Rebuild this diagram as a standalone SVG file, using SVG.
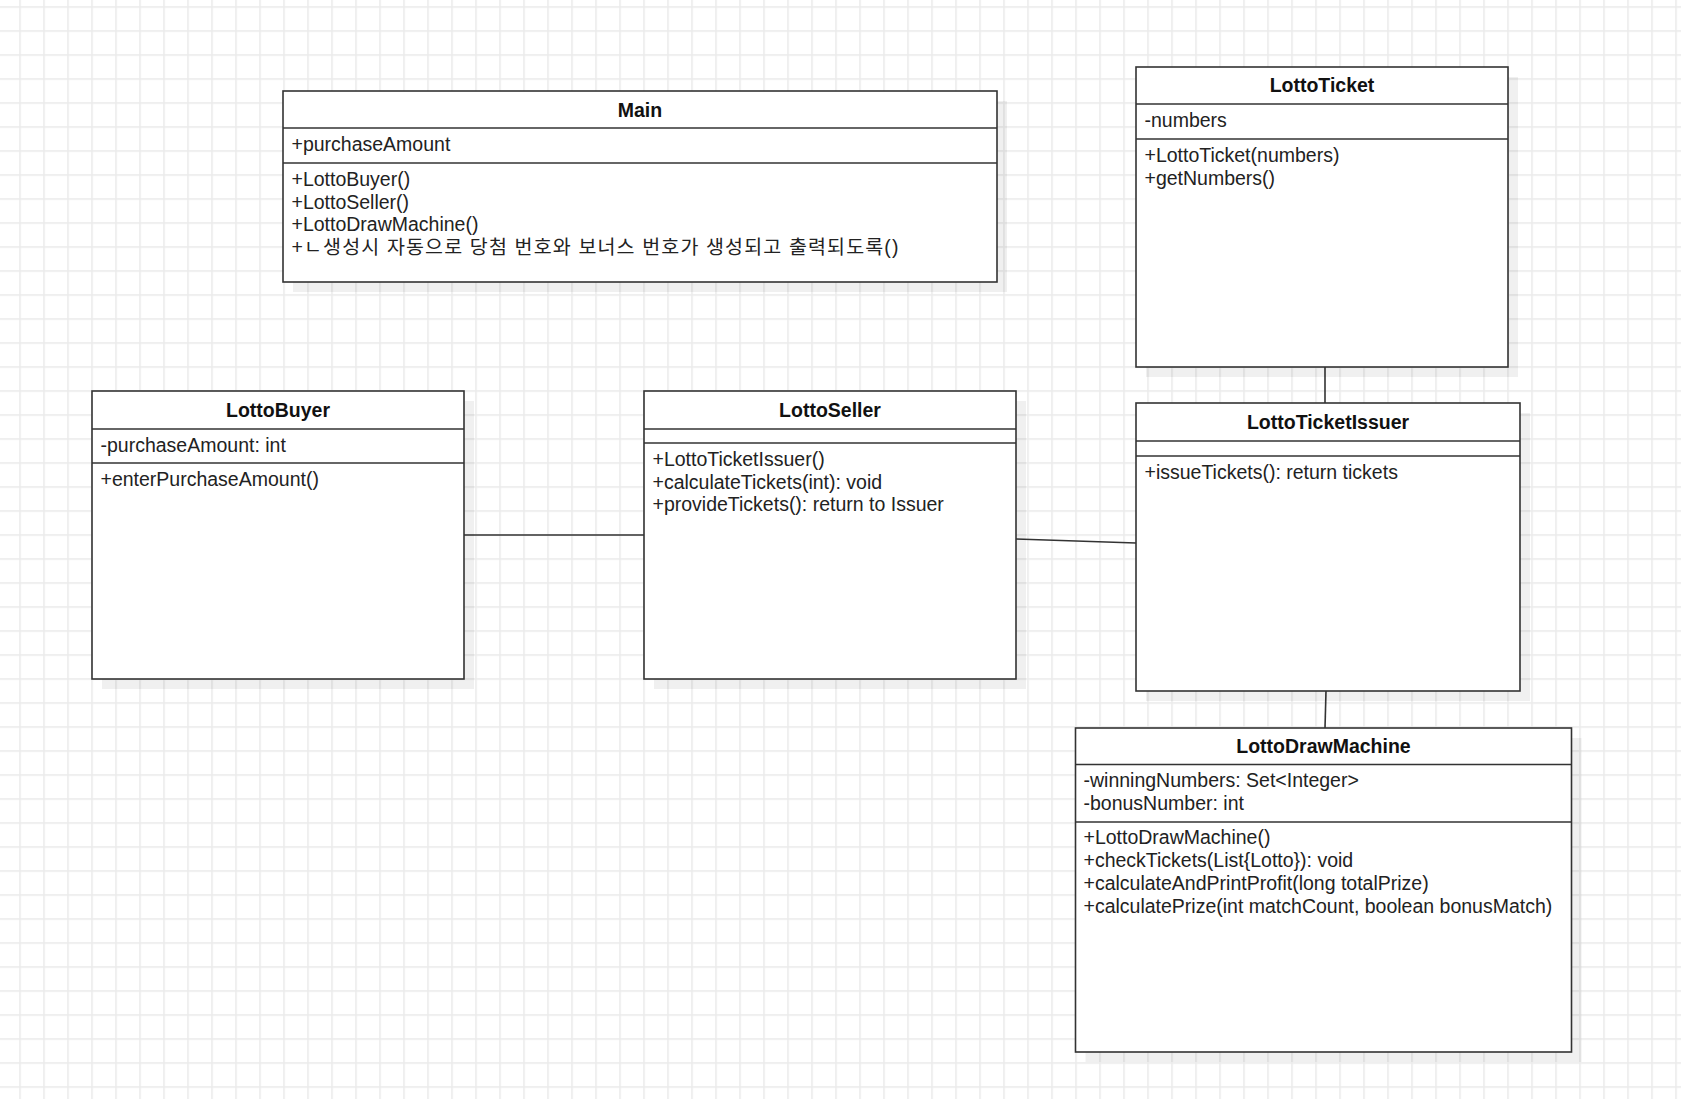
<svg xmlns="http://www.w3.org/2000/svg" width="1681" height="1099" viewBox="0 0 1681 1099">
<defs>
<pattern id="grid" width="24" height="24" patternUnits="userSpaceOnUse" x="19.2" y="6.2">
<rect x="0" y="0" width="1.6" height="24" fill="#ebebeb"/>
<rect x="0" y="0" width="24" height="1.6" fill="#ebebeb"/>
</pattern>
</defs>
<style>
.box{fill:#ffffff;stroke:#333333;stroke-width:1.6}
.shadow{fill:#000000;fill-opacity:0.06}
.div{stroke:#333333;stroke-width:1.6;fill:none}
.title{font-family:"Liberation Sans",Arial,sans-serif;font-size:19.5px;font-weight:bold;fill:#111111;text-anchor:middle}
.txt{font-family:"Liberation Sans",Arial,"Noto Sans CJK KR",sans-serif;font-size:19.5px;fill:#222222}
.ko{font-family:"Liberation Sans","Noto Sans CJK KR",sans-serif}
.conn{stroke:#333333;stroke-width:1.6;fill:none}
</style>
<rect x="0" y="0" width="1681" height="1099" fill="#ffffff"/>
<rect x="0" y="0" width="1681" height="1099" fill="url(#grid)"/>

<g id="connectors">
<line class="conn" x1="464" y1="535" x2="644" y2="535"/>
<line class="conn" x1="1016" y1="539" x2="1136" y2="543"/>
<line class="conn" x1="1325" y1="367" x2="1325" y2="403"/>
<line class="conn" x1="1326" y1="691" x2="1325" y2="728"/>
</g>

<g id="Main">
<rect class="shadow" x="293" y="101" width="714" height="191"/>
<rect class="box" x="283" y="91" width="714" height="191"/>
<line class="div" x1="283" y1="128" x2="997" y2="128"/>
<line class="div" x1="283" y1="163" x2="997" y2="163"/>
<text class="title" x="640" y="117">Main</text>
<text class="txt" x="291.5" y="151">+purchaseAmount</text>
<text class="txt" x="291.5" y="186">+LottoBuyer()</text>
<text class="txt" x="291.5" y="208.7">+LottoSeller()</text>
<text class="txt" x="291.5" y="231.4">+LottoDrawMachine()</text>
<text class="txt ko" x="291.5" y="253.5" textLength="607" lengthAdjust="spacing">+ㄴ생성시 자동으로 당첨 번호와 보너스 번호가 생성되고 출력되도록()</text>
</g>

<g id="LottoTicket">
<rect class="shadow" x="1146" y="77" width="372" height="300"/>
<rect class="box" x="1136" y="67" width="372" height="300"/>
<line class="div" x1="1136" y1="104" x2="1508" y2="104"/>
<line class="div" x1="1136" y1="139" x2="1508" y2="139"/>
<text class="title" x="1322" y="92">LottoTicket</text>
<text class="txt" x="1144.5" y="127">-numbers</text>
<text class="txt" x="1144.5" y="162">+LottoTicket(numbers)</text>
<text class="txt" x="1144.5" y="184.7">+getNumbers()</text>
</g>

<g id="LottoBuyer">
<rect class="shadow" x="102" y="401" width="372" height="288"/>
<rect class="box" x="92" y="391" width="372" height="288"/>
<line class="div" x1="92" y1="429" x2="464" y2="429"/>
<line class="div" x1="92" y1="463" x2="464" y2="463"/>
<text class="title" x="278" y="417">LottoBuyer</text>
<text class="txt" x="100.5" y="451.5">-purchaseAmount: int</text>
<text class="txt" x="100.5" y="486">+enterPurchaseAmount()</text>
</g>

<g id="LottoSeller">
<rect class="shadow" x="654" y="401" width="372" height="288"/>
<rect class="box" x="644" y="391" width="372" height="288"/>
<line class="div" x1="644" y1="429" x2="1016" y2="429"/>
<line class="div" x1="644" y1="443" x2="1016" y2="443"/>
<text class="title" x="830" y="417">LottoSeller</text>
<text class="txt" x="652.5" y="466">+LottoTicketIssuer()</text>
<text class="txt" x="652.5" y="488.7">+calculateTickets(int): void</text>
<text class="txt" x="652.5" y="511.4">+provideTickets(): return to Issuer</text>
</g>

<g id="LottoTicketIssuer">
<rect class="shadow" x="1146" y="413" width="384" height="288"/>
<rect class="box" x="1136" y="403" width="384" height="288"/>
<line class="div" x1="1136" y1="441" x2="1520" y2="441"/>
<line class="div" x1="1136" y1="456" x2="1520" y2="456"/>
<text class="title" x="1328" y="429">LottoTicketIssuer</text>
<text class="txt" x="1144.5" y="478.5">+issueTickets(): return tickets</text>
</g>

<g id="LottoDrawMachine">
<rect class="shadow" x="1085.5" y="738" width="496" height="324"/>
<rect class="box" x="1075.5" y="728" width="496" height="324"/>
<line class="div" x1="1075.5" y1="764.5" x2="1571.5" y2="764.5"/>
<line class="div" x1="1075.5" y1="822" x2="1571.5" y2="822"/>
<text class="title" x="1323.5" y="753.3">LottoDrawMachine</text>
<text class="txt" x="1083.5" y="786.8">-winningNumbers: Set&lt;Integer&gt;</text>
<text class="txt" x="1083.5" y="809.6">-bonusNumber: int</text>
<text class="txt" x="1083.5" y="844.2">+LottoDrawMachine()</text>
<text class="txt" x="1083.5" y="867">+checkTickets(List{Lotto}): void</text>
<text class="txt" x="1083.5" y="889.8">+calculateAndPrintProfit(long totalPrize)</text>
<text class="txt" x="1083.5" y="912.6">+calculatePrize(int matchCount, boolean bonusMatch)</text>
</g>
</svg>
